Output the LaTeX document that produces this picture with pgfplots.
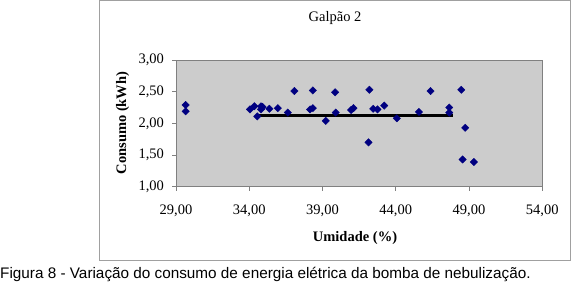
\documentclass[border=0pt]{standalone}
\usepackage{pgfplots}
\pgfplotsset{compat=1.18}
\usepackage{fontspec}
\setmainfont{Liberation Serif}
\newfontfamily\capfont{Liberation Sans}
\definecolor{ptnavy}{RGB}{0,0,128}
\definecolor{plotbg}{RGB}{204,204,204}
\definecolor{framegray}{RGB}{160,160,160}
\definecolor{axisgray}{RGB}{128,128,128}
\begin{document}
\fontsize{14.5}{17}\selectfont
\begin{tikzpicture}
\path[use as bounding box] (0pt,0pt) rectangle (572pt,283pt);
\draw[framegray, line width=0.8pt] (99.5pt,23pt) rectangle (570.5pt,282.6pt);
\begin{axis}[
  at={(176pt,96.3pt)}, anchor=south west,
  scale only axis, width=366.3pt, height=126.7pt,
  xmin=29, xmax=54, ymin=1, ymax=3,
  xtick={29,34,39,44,49,54}, ytick={1,1.5,2,2.5,3},
  xtick pos=bottom, ytick pos=left,
  tick align=outside, major tick length=4pt,
  axis line style={axisgray, line width=0.8pt},
  tick style={axisgray, line width=0.8pt},
  axis background/.style={fill=plotbg},
  /pgf/number format/.cd, fixed, fixed zerofill, precision=2, use comma, assume math mode=true,
  /pgfplots/.cd,
  yticklabel style={xshift=-3pt},
  xticklabel style={yshift=-9pt},
  clip=false,
]
\addplot[black, line width=3pt, no marks] coordinates {(34.69,2.12) (47.9,2.12)};
\addplot[only marks, mark=square*, mark size=2.6pt, mark options={rotate=45, fill=ptnavy, draw=ptnavy}] coordinates {
(29.66,2.29) (29.66,2.19)
(34.05,2.22) (34.35,2.27) (34.55,2.11) (34.8,2.27) (34.8,2.22) (34.9,2.26)
(35.37,2.23) (35.95,2.24) (36.63,2.17) (37.08,2.51) (38.15,2.22) (38.34,2.24)
(38.34,2.52) (39.22,2.04) (39.86,2.49) (39.9,2.17) (40.95,2.21) (41.11,2.24)
(42.2,2.53) (42.14,1.70) (42.46,2.23) (42.75,2.22) (43.21,2.28) (44.07,2.08)
(45.58,2.18) (46.37,2.51) (47.65,2.25) (47.65,2.17) (48.47,2.53) (48.74,1.93)
(48.56,1.43) (49.33,1.39)
};
\end{axis}
\node at (335pt,265pt) {Galpão 2};
\node[rotate=90] at (122.7pt,160pt) {\bfseries Consumo (kWh)};
\node at (355pt,45pt) {\bfseries Umidade (\%)};
\node[anchor=base west, inner sep=0pt] at (0pt,4.5pt) {\capfont\fontsize{15.3}{17}\selectfont Figura 8 - Variação do consumo de energia elétrica da bomba de nebulização.};
\end{tikzpicture}
\end{document}
